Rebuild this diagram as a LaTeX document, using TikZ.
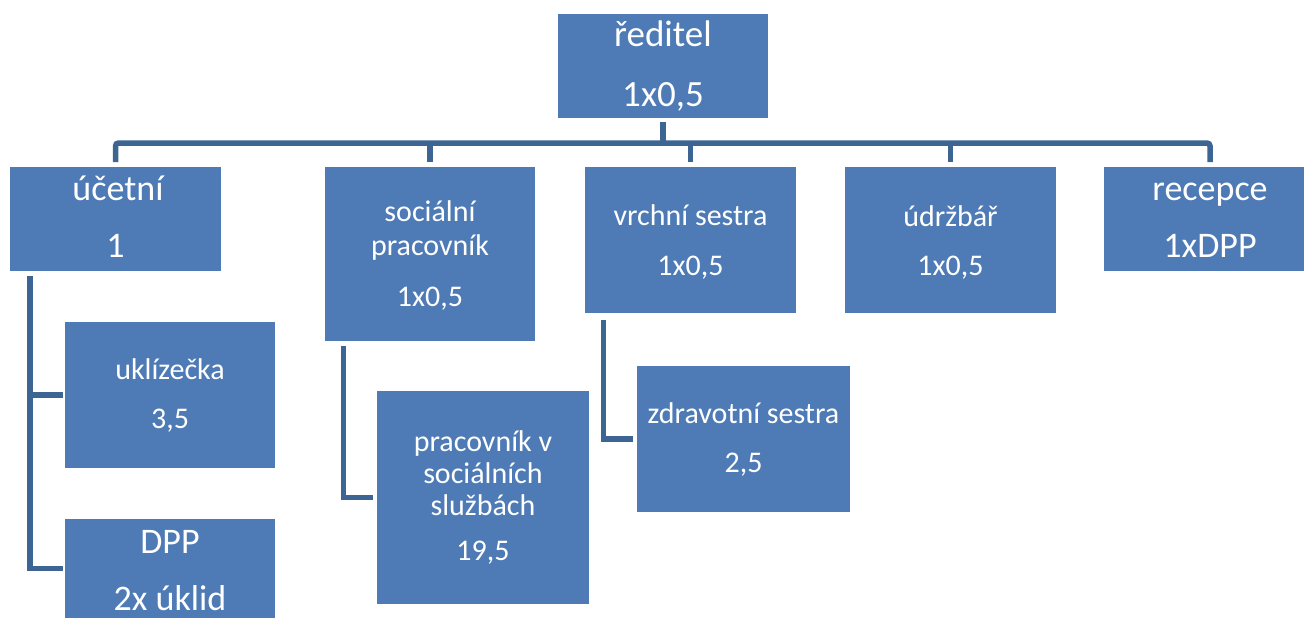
\documentclass[tikz,border=0pt]{standalone}
\usepackage{fontspec}
\setmainfont{Carlito}
\definecolor{boxblue}{HTML}{4E7BB5}
\definecolor{lineblue}{HTML}{3C6594}
\begin{document}
\begin{tikzpicture}[x=1pt,y=-1pt,
  box/.style={rectangle, fill=boxblue, draw=none, inner sep=0pt, outer sep=0pt},
  big/.style={text=white, anchor=base, inner sep=0pt, font=\fontsize{36}{40}\selectfont},
  small/.style={text=white, anchor=base, inner sep=0pt, font=\fontsize{30}{34}\selectfont},
  conn/.style={draw=lineblue, line width=5.5pt}]
\useasboundingbox (0,0) rectangle (1304,619);
\clip (0,0) rectangle (1304,619);
% boxes
\node[box, minimum width=210pt, minimum height=104pt] (red) at (663,66) {};
\node[box, minimum width=211pt, minimum height=104pt] (uc) at (115.5,219) {};
\node[box, minimum width=210pt, minimum height=174pt] (soc) at (430,254) {};
\node[box, minimum width=211pt, minimum height=146pt] (vr) at (690.5,240) {};
\node[box, minimum width=211pt, minimum height=146pt] (ud) at (950.5,240) {};
\node[box, minimum width=212pt, minimum height=104pt] (rec) at (1210,219) {};
\node[box, minimum width=210pt, minimum height=146pt] (ukl) at (170,395) {};
\node[box, minimum width=210pt, minimum height=99pt] (dpp) at (170,568.5) {};
\node[box, minimum width=212pt, minimum height=213pt] (prac) at (483,497.5) {};
\node[box, minimum width=213pt, minimum height=146pt] (zdr) at (743.5,439) {};
% texts
\node[big, font=\fontsize{37}{40}\selectfont] (redA) at (663,46) {ředitel};
\node[big, font=\fontsize{37}{40}\selectfont] (redB) at (663,106) {1x0,5};
\node[big] (ucA) at (118,200) {účetní};
\node[big] (ucB) at (115.5,257) {1};
\node[big] (recA) at (1210,200) {recepce};
\node[big] (recB) at (1210,257) {1xDPP};
\node[small] (socA) at (430,221) {sociální};
\node[small] (socB) at (430,255) {pracovník};
\node[small] (socC) at (430,306) {1x0,5};
\node[small] (vrA) at (690.5,225) {vrchní sestra};
\node[small] (vrB) at (690.5,275) {1x0,5};
\node[small] (udA) at (950.5,226) {údržbář};
\node[small] (udB) at (950.5,275) {1x0,5};
\node[small] (uklA) at (170,379) {uklízečka};
\node[small] (uklB) at (170,428) {3,5};
\node[big] (dppA) at (170,553) {DPP};
\node[big] (dppB) at (170,610) {2x úklid};
\node[small] (pracA) at (483,451) {pracovník v};
\node[small] (pracB) at (483,483) {sociálních};
\node[small] (pracC) at (483,515) {službách};
\node[small] (pracD) at (483,560) {19,5};
\node[small] (zdrA) at (743.5,423) {zdravotní sestra};
\node[small] (zdrB) at (743.5,472) {2,5};
% connectors
\coordinate (bar) at (663,143);
\draw[conn] ([yshift=-4pt]red.south) -- (red.south |- bar);
\draw[conn, rounded corners=3pt] ([yshift=5pt]uc.north) |- (bar) -| ([yshift=5pt]rec.north);
\draw[conn] (soc.north |- bar) -- ([yshift=5pt]soc.north);
\draw[conn] (vr.north |- bar) -- ([yshift=5pt]vr.north);
\draw[conn] (ud.north |- bar) -- ([yshift=5pt]ud.north);
% sub connectors
\coordinate (ucS) at ([shift={(20pt,-5pt)}]uc.south west);
\draw[conn] (ucS) |- ([xshift=-2pt]dpp.west);
\draw[conn] (ucS |- ukl.west) -- ([xshift=-2pt]ukl.west);
\coordinate (socS) at ([shift={(18.5pt,-5pt)}]soc.south west);
\draw[conn] (socS) |- ([xshift=-4pt]prac.west);
\coordinate (vrS) at ([shift={(18.5pt,-7pt)}]vr.south west);
\draw[conn] (vrS) |- ([xshift=-4pt]zdr.west);
\end{tikzpicture}
\end{document}
